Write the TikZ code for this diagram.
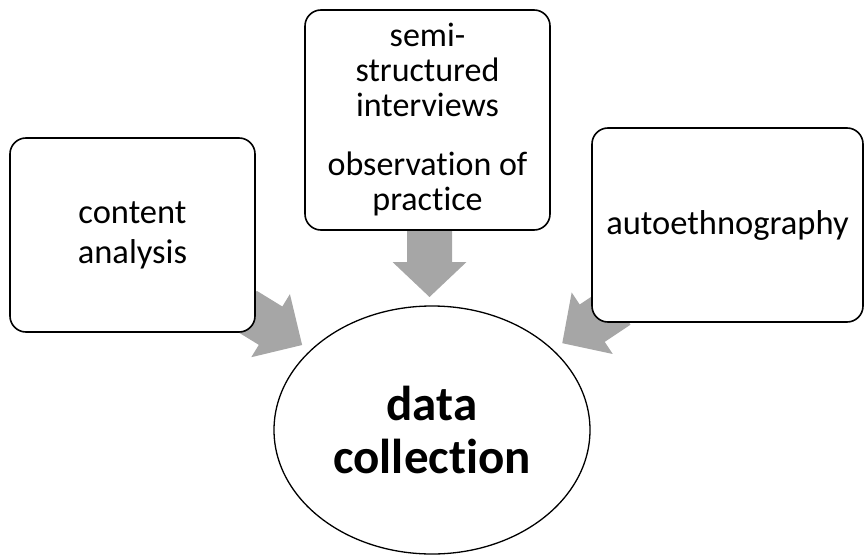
\documentclass[tikz,border=0pt]{standalone}
\usepackage{fontspec}
\setmainfont{Carlito}[Ligatures={NoCommon}]
\usetikzlibrary{shapes.geometric}
\definecolor{arrowgray}{HTML}{A6A6A6}
\begin{document}
\begin{tikzpicture}[x=1pt,y=-1pt,
  box/.style={draw=black, line width=1.6pt, rounded corners=16pt, fill=white, inner sep=0pt, align=center},
  boxtext/.style={font=\fontsize{34.5}{40}\selectfont},
  hub/.style={ellipse, draw=black, line width=1.3pt, fill=white, inner sep=0pt, align=center,
    font=\fontsize{49}{53}\selectfont\bfseries},
  blockarrow/.style={fill=arrowgray, draw=none}]
\useasboundingbox (0,0) rectangle (866,556);

% block arrows (behind boxes)
\begin{scope}[shift={(245,310)}, rotate=-31.5]
  \fill[blockarrow] (0,-22.5) -- (30,-22.5) -- (30,-37) -- (67,0) -- (30,37) -- (30,22.5) -- (0,22.5) -- cycle;
\end{scope}
\begin{scope}[shift={(429.5,228)}, rotate=-90]
  \fill[blockarrow] (0,-22.5) -- (34,-22.5) -- (34,-37) -- (69,0) -- (34,37) -- (34,22.5) -- (0,22.5) -- cycle;
\end{scope}
\begin{scope}[shift={(618,306)}, rotate=-146.3]
  \fill[blockarrow] (0,-22.5) -- (31,-22.5) -- (31,-37) -- (67,0) -- (31,37) -- (31,22.5) -- (0,22.5) -- cycle;
\end{scope}

\node[box, boxtext, minimum width=245pt, minimum height=194pt] (ca) at (132.5,235) {content\\analysis};
\node[box, font=\fontsize{34}{35}\selectfont, minimum width=245pt, minimum height=220pt] (ssi) at (427.5,120)
  {semi-\\structured\\interviews\\[24pt]observation of\\practice};
\node[box, boxtext, minimum width=271pt, minimum height=194pt] (ae) at (727.5,225) {autoethnography};
\node[hub, minimum width=316pt, minimum height=248pt] (dc) at (432,430) {data\\collection};
\end{tikzpicture}
\end{document}
